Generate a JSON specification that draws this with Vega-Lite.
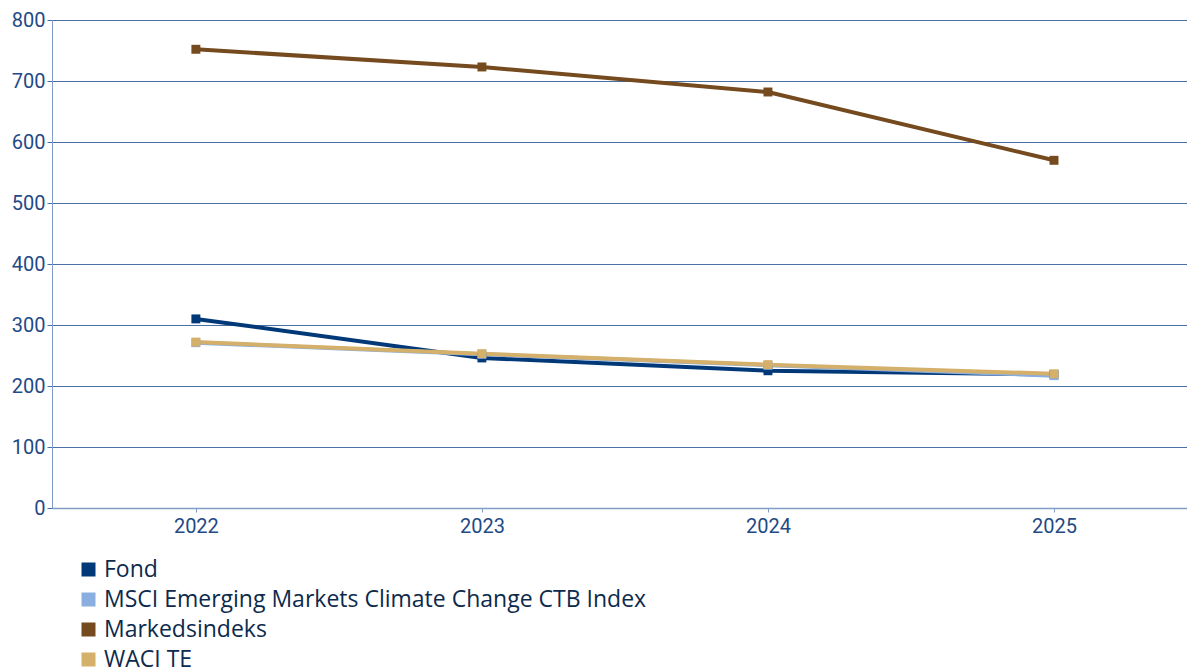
{
  "$schema": "https://vega.github.io/schema/vega-lite/v6.json",
  "autosize": "none",
  "width": 1135,
  "height": 488,
  "padding": {"left": 52, "top": 20, "right": 0, "bottom": 160},
  "background": "white",
  "config": {
    "view": {"stroke": null},
    "font": "Roboto",
    "axis": {"labelFont": "Roboto", "labelColor": "#1f4a85", "labelFontSize": 20}
  },
  "data": {
    "values": [
      {"year": 2022, "series": "Fond", "value": 310},
      {"year": 2023, "series": "Fond", "value": 246},
      {"year": 2024, "series": "Fond", "value": 225},
      {"year": 2025, "series": "Fond", "value": 219},
      {"year": 2022, "series": "MSCI Emerging Markets Climate Change CTB Index", "value": 271},
      {"year": 2023, "series": "MSCI Emerging Markets Climate Change CTB Index", "value": 252},
      {"year": 2024, "series": "MSCI Emerging Markets Climate Change CTB Index", "value": 234},
      {"year": 2025, "series": "MSCI Emerging Markets Climate Change CTB Index", "value": 217},
      {"year": 2022, "series": "Markedsindeks", "value": 752},
      {"year": 2023, "series": "Markedsindeks", "value": 723},
      {"year": 2024, "series": "Markedsindeks", "value": 682},
      {"year": 2025, "series": "Markedsindeks", "value": 570},
      {"year": 2022, "series": "WACI TE", "value": 272},
      {"year": 2023, "series": "WACI TE", "value": 253},
      {"year": 2024, "series": "WACI TE", "value": 235},
      {"year": 2025, "series": "WACI TE", "value": 220}
    ]
  },
  "encoding": {
    "x": {
      "field": "year", "type": "quantitative",
      "scale": {"domain": [2021.497, 2025.465], "nice": false, "zero": false},
      "axis": {
        "values": [2022, 2023, 2024, 2025], "format": "d", "title": null,
        "grid": false, "domainColor": "#7f9cc4", "domainWidth": 1.5,
        "tickColor": "#7f9cc4", "tickSize": 4, "labelPadding": 4
      }
    },
    "y": {
      "field": "value", "type": "quantitative",
      "scale": {"domain": [0, 800], "nice": false},
      "axis": {
        "values": [0, 100, 200, 300, 400, 500, 600, 700, 800], "title": null,
        "gridColor": "#4a6fa5", "gridWidth": 1, "domainColor": "#7f9cc4",
        "tickColor": "#4a6fa5", "tickSize": 5, "labelPadding": 2
      }
    },
    "color": {
      "field": "series", "type": "nominal",
      "scale": {
        "domain": ["Fond", "MSCI Emerging Markets Climate Change CTB Index", "Markedsindeks", "WACI TE"],
        "range": ["#003878", "#8aaee0", "#744a1e", "#d4b06a"]
      },
      "legend": {
        "title": null, "orient": "none", "legendX": 25, "legendY": 538,
        "symbolType": "square", "symbolSize": 196, "symbolStrokeWidth": 0,
        "labelFontSize": 23, "labelColor": "#0d2a4d", "labelFont": "Open Sans",
        "rowPadding": 6, "labelOffset": 4, "symbolOpacity": 1, "labelLimit": 0
      }
    },
    "order": {"field": "series"}
  },
  "layer": [
    {"mark": {"type": "line", "strokeWidth": 4}},
    {"mark": {"type": "point", "shape": "square", "filled": true, "size": 80, "opacity": 1}}
  ]
}
